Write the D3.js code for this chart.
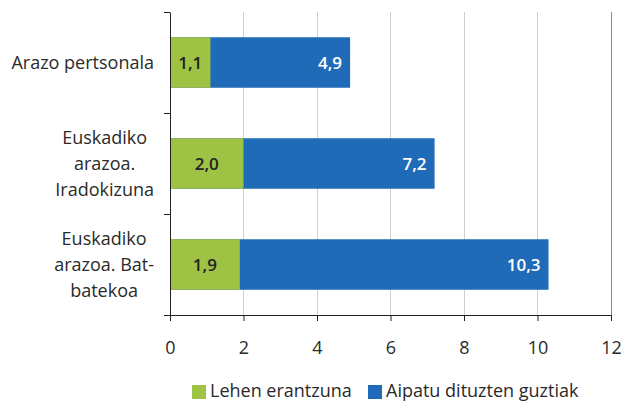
<!DOCTYPE html>
<html>
<head>
<meta charset="utf-8">
<script src="https://cdn.jsdelivr.net/npm/d3@7"></script>
<style>
  html, body { margin: 0; padding: 0; background: #fff; }
  svg text { font-family: "Open Sans", "DejaVu Sans", sans-serif; fill: #2a2a2a; }
</style>
</head>
<body>
<div id="chart"></div>
<script>
// Datuak
const categories = ["Arazo pertsonala", "Euskadiko arazoa. Iradokizuna", "Euskadiko arazoa. Bat-batekoa"];
const categoryLines = [
  ["Arazo pertsonala"],
  ["Euskadiko", "arazoa.", "Iradokizuna"],
  ["Euskadiko", "arazoa. Bat-", "batekoa"]
];
const firstAnswer = [1.1, 2.0, 1.9];     // Lehen erantzuna
const allMentioned = [4.9, 7.2, 10.3];   // Aipatu dituzten guztiak
const tickValues = [0, 2, 4, 6, 8, 10, 12];
const seriesNames = ["Lehen erantzuna", "Aipatu dituzten guztiak"];
const colors = ["#9ec243", "#206bb7"];

function main() {
  const width = 621, height = 401;
  const plotLeft = 170, plotRight = 611, plotTop = 12, plotBottom = 315;
  const fontSize = "18px";

  const fmt = v => v.toFixed(1).replace(".", ",");

  const svg = d3.select("#chart").append("svg")
    .attr("width", width)
    .attr("height", height);

  const x = d3.scaleLinear().domain([0, 12]).range([plotLeft, plotRight]);
  const y = d3.scaleBand().domain(categories).range([plotTop, plotBottom])
    .paddingInner(0.5).paddingOuter(0.25);

  // gridlines
  svg.append("g")
    .selectAll("line")
    .data(tickValues.filter(d => d > 0))
    .join("line")
    .attr("x1", d => x(d)).attr("x2", d => x(d))
    .attr("y1", plotTop).attr("y2", plotBottom)
    .attr("stroke", d => d === 12 ? "#8a8a8a" : "#cfcfcf")
    .attr("stroke-width", 1)
    .attr("shape-rendering", "crispEdges");

  // barra urdinak (guztira), gero berdeak gainean
  svg.append("g")
    .selectAll("rect")
    .data(categories)
    .join("rect")
    .attr("x", x(0))
    .attr("y", d => y(d))
    .attr("width", (d, i) => x(allMentioned[i]) - x(0))
    .attr("height", y.bandwidth())
    .attr("fill", colors[1]);

  svg.append("g")
    .selectAll("rect")
    .data(categories)
    .join("rect")
    .attr("x", x(0))
    .attr("y", d => y(d))
    .attr("width", (d, i) => x(firstAnswer[i]) - x(0))
    .attr("height", y.bandwidth())
    .attr("fill", colors[0]);

  // value labels
  svg.append("g")
    .selectAll("text")
    .data(categories)
    .join("text")
    .attr("x", (d, i) => (x(0) + x(firstAnswer[i])) / 2)
    .attr("y", d => y(d) + y.bandwidth() / 2)
    .attr("dy", "0.36em")
    .attr("text-anchor", "middle")
    .style("font-size", "17px")
    .style("font-weight", "600")
    .style("fill", "#222")
    .text((d, i) => fmt(firstAnswer[i]));

  svg.append("g")
    .selectAll("text")
    .data(categories)
    .join("text")
    .attr("x", (d, i) => x(allMentioned[i]) - 8)
    .attr("y", d => y(d) + y.bandwidth() / 2)
    .attr("dy", "0.36em")
    .attr("text-anchor", "end")
    .style("font-size", "17px")
    .style("font-weight", "600")
    .style("fill", "#fff")
    .text((d, i) => fmt(allMentioned[i]));

  // x axis
  const xAxis = svg.append("g")
    .attr("transform", `translate(0,${plotBottom})`)
    .call(d3.axisBottom(x).tickValues(tickValues).tickSize(6).tickSizeOuter(0).tickPadding(20).tickFormat(d3.format("d")));
  xAxis.select(".domain").attr("stroke", "#222");
  xAxis.selectAll(".tick line").attr("stroke", "#222");
  xAxis.selectAll(".tick text").style("font-size", fontSize).attr("font-family", null).attr("fill", "#2a2a2a");

  // y axis (ticks at band boundaries)
  const yEdges = d3.scaleLinear().domain([0, categories.length]).range([plotTop, plotBottom]);
  const yAxis = svg.append("g")
    .attr("transform", `translate(${plotLeft},0)`)
    .call(d3.axisLeft(yEdges).tickValues(d3.range(categories.length + 1)).tickSize(6).tickSizeOuter(0).tickFormat(""));
  yAxis.select(".domain").attr("stroke", "#222");
  yAxis.selectAll(".tick line").attr("stroke", "#222");

  // category labels
  const lineH = 26;
  const labelRight = 154;
  categories.forEach((c, i) => {
    const lines = categoryLines[i];
    const g = svg.append("g");
    const cy = y(c) + y.bandwidth() / 2;
    const texts = g.selectAll("text")
      .data(lines)
      .join("text")
      .attr("y", (d, j) => cy + (j - (lines.length - 1) / 2) * lineH)
      .attr("dy", "0.36em")
      .attr("text-anchor", "middle")
      .style("font-size", fontSize)
      .text(d => d);
    let maxW = 0;
    texts.each(function() { maxW = Math.max(maxW, this.getComputedTextLength()); });
    texts.attr("x", labelRight - maxW / 2);
  });

  // legend
  const legend = svg.append("g").attr("transform", "translate(0,391)");
  const legendX = [192, 368];
  seriesNames.forEach((name, i) => {
    legend.append("rect")
      .attr("x", legendX[i]).attr("y", -6)
      .attr("width", 14).attr("height", 14)
      .attr("fill", colors[i]);
    legend.append("text")
      .attr("x", legendX[i] + 18)
      .attr("y", 0)
      .attr("dy", "0.36em")
      .style("font-size", fontSize)
      .text(name);
  });
}

main();
</script>
</body>
</html>
